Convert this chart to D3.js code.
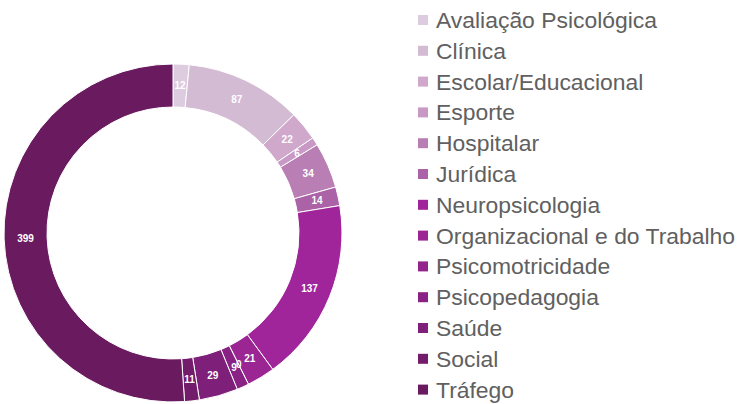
<!DOCTYPE html>
<html><head><meta charset="utf-8">
<script src="https://cdn.jsdelivr.net/npm/d3@7"></script>
<style>body{margin:0;background:#fff}svg{display:block}</style>
</head><body>
<script>
const categories = ["Avaliação Psicológica","Clínica","Escolar/Educacional","Esporte","Hospitalar","Jurídica","Neuropsicologia","Organizacional e do Trabalho","Psicomotricidade","Psicopedagogia","Saúde","Social","Tráfego"];
const values = [12, 87, 22, 6, 34, 14, 137, 21, 0, 9, 29, 11, 399];
const colors = ["#ddcbdf","#d3bbd3","#cfa8cb","#c999c5","#b97fb4","#ab62a6","#a0259a","#9b2593","#93248c","#892284","#7e1f79","#741c6c","#6a1a5f"];

const W = 740, H = 404;
const svg = d3.select("body").append("svg").attr("width", W).attr("height", H);
const cx = 173, cy = 233, rOuter = 169, rInner = 126;

const pie = d3.pie().sort(null).value(d => d.v);
const data = categories.map((c, i) => ({c, v: values[i], col: colors[i]}));
const arcs = pie(data);
const arc = d3.arc().innerRadius(rInner).outerRadius(rOuter);
const labelArc = d3.arc().innerRadius((rInner + rOuter) / 2).outerRadius((rInner + rOuter) / 2);

const g = svg.append("g").attr("transform", `translate(${cx},${cy})`);
g.selectAll("path").data(arcs).join("path")
  .attr("d", arc).attr("fill", d => d.data.col)
  .attr("stroke", "#fff").attr("stroke-width", 1);
g.selectAll("text").data(arcs).join("text")
  .attr("transform", d => `translate(${labelArc.centroid(d)})`)
  .attr("text-anchor", "middle").attr("dy", "0.35em")
  .attr("fill", "#fff").style("font-family", "'Liberation Sans', Arial, sans-serif")
  .attr("font-size", 10).attr("font-weight", "bold")
  .text(d => d.data.v);

const legend = svg.append("g");
const y0 = 20, step = 30.8;
const items = legend.selectAll("g").data(data).join("g")
  .attr("transform", (d, i) => `translate(418,${y0 + i * step})`);
items.append("rect").attr("x", 0).attr("y", -5).attr("width", 10).attr("height", 10).attr("fill", d => d.col);
items.append("text").attr("x", 18).attr("dy", "0.35em")
  .style("font-family", "'Liberation Sans', Arial, sans-serif").attr("font-size", 22.9)
  .attr("fill", "#606060").text(d => d.c);
</script>
</body></html>
